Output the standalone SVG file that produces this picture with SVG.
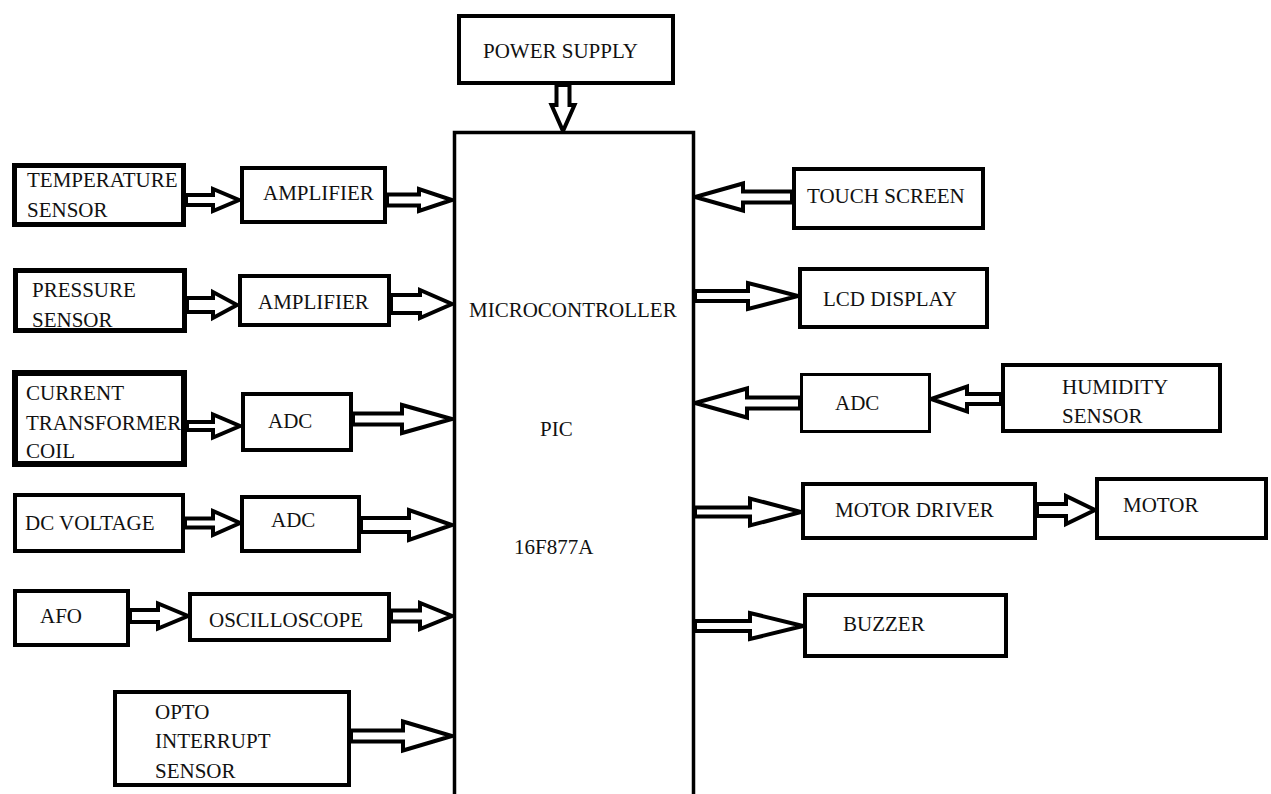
<svg xmlns="http://www.w3.org/2000/svg" width="1271" height="794" viewBox="0 0 1271 794">
<style>
.box{fill:#fff;stroke:#000;stroke-width:4}
.thick{stroke-width:5}
.thicker{stroke-width:6}
.thin{stroke-width:3}
.arr{fill:#fff;stroke:#000;stroke-width:4;stroke-linejoin:miter}
.t{font-family:'Liberation Serif','DejaVu Serif','Times New Roman',serif;font-size:21px;fill:#111}
</style>
<rect width="1271" height="794" fill="#fff"/>
<g id="connectors">
<polygon class="arr" points="556.5,85 556.5,105 551.5,105 563,131 574.5,105 569.5,105 569.5,85"/>
<polygon class="arr" points="186,195 213,195 213,189 239,200 213,211 213,205 186,205"/>
<polygon class="arr" points="387,194.5 419,194.5 419,189 452,200 419,211 419,205.5 387,205.5"/>
<polygon class="arr" points="187,298 213,298 213,292 237,305 213,318 213,312 187,312"/>
<polygon class="arr" points="391,295 420,295 420,290 452,304 420,318 420,313 391,313"/>
<polygon class="arr" points="187,422 213,422 213,414.5 240,426 213,437.5 213,430 187,430"/>
<polygon class="arr" points="353,413.5 402,413.5 402,405 452,419 402,433 402,424.5 353,424.5"/>
<polygon class="arr" points="185,518.5 213,518.5 213,511 240,523 213,535 213,527.5 185,527.5"/>
<polygon class="arr" points="361,518 409,518 409,510 452,525 409,540 409,532 361,532"/>
<polygon class="arr" points="130,610 158,610 158,603.5 188,616 158,628.5 158,622 130,622"/>
<polygon class="arr" points="391,610.5 420,610.5 420,603 452,616 420,629 420,621.5 391,621.5"/>
<polygon class="arr" points="351,730.5 403,730.5 403,721.5 452,736 403,750.5 403,741.5 351,741.5"/>
<polygon class="arr" points="792,191.5 743,191.5 743,183.5 695,197 743,210.5 743,202.5 792,202.5"/>
<polygon class="arr" points="695,291 748,291 748,283 798,296 748,309 748,301 695,301"/>
<polygon class="arr" points="800,397.5 747,397.5 747,388.5 695,403 747,417.5 747,408.5 800,408.5"/>
<polygon class="arr" points="1001,394 967,394 967,386.5 931,399 967,411.5 967,404 1001,404"/>
<polygon class="arr" points="695,507.5 750,507.5 750,498.5 801,512 750,525.5 750,516.5 695,516.5"/>
<polygon class="arr" points="1037,504 1066,504 1066,496 1095,510 1066,524 1066,516 1037,516"/>
<polygon class="arr" points="695,621 750,621 750,613 803,626 750,639 750,631 695,631"/>
</g>
<g id="power-supply"><rect class="box" x="459" y="16" width="214" height="67"/><text class="t" x="483" y="58">POWER SUPPLY</text></g>
<g id="microcontroller"><rect class="box" x="454.5" y="132.5" width="239" height="720" style="stroke-width:3.5"/><text class="t" x="469" y="317">MICROCONTROLLER</text><text class="t" x="540" y="436">PIC</text><text class="t" x="514" y="554">16F877A</text></g>
<g id="temperature-sensor"><rect class="box thick" x="14.5" y="165.5" width="169" height="59"/><text class="t" x="27" y="187">TEMPERATURE</text><text class="t" x="27" y="217">SENSOR</text></g>
<g id="amplifier-1"><rect class="box" x="242" y="168" width="143" height="54"/><text class="t" x="263" y="200">AMPLIFIER</text></g>
<g id="pressure-sensor"><rect class="box thick" x="15.5" y="270.5" width="169" height="60"/><text class="t" x="32" y="297">PRESSURE</text><text class="t" x="32" y="327">SENSOR</text></g>
<g id="amplifier-2"><rect class="box" x="240" y="276" width="149" height="49"/><text class="t" x="258" y="309">AMPLIFIER</text></g>
<g id="current-transformer-coil"><rect class="box thicker" x="15" y="373" width="169" height="91"/><line x1="12" y1="371.5" x2="187" y2="371.5" stroke="#000" stroke-width="3"/><text class="t" x="26" y="400">CURRENT</text><text class="t" x="26" y="430">TRANSFORMER</text><text class="t" x="26" y="458">COIL</text></g>
<g id="adc-1"><rect class="box" x="243" y="394" width="108" height="56"/><text class="t" x="268" y="428">ADC</text></g>
<g id="dc-voltage"><rect class="box" x="15" y="495" width="168" height="56"/><text class="t" x="25" y="530">DC VOLTAGE</text></g>
<g id="adc-2"><rect class="box" x="242" y="497" width="117" height="54"/><text class="t" x="271" y="527">ADC</text></g>
<g id="afo"><rect class="box" x="15" y="591" width="113" height="54"/><text class="t" x="40" y="623">AFO</text></g>
<g id="oscilloscope"><rect class="box" x="190" y="594" width="199" height="46"/><text class="t" x="209" y="627">OSCILLOSCOPE</text></g>
<g id="opto-interrupt-sensor"><rect class="box" x="115" y="692" width="234" height="93"/><text class="t" x="155" y="719">OPTO</text><text class="t" x="155" y="748">INTERRUPT</text><text class="t" x="155" y="778">SENSOR</text></g>
<g id="touch-screen"><rect class="box" x="794" y="169" width="189" height="59"/><text class="t" x="807" y="203">TOUCH SCREEN</text></g>
<g id="lcd-display"><rect class="box" x="800" y="269" width="187" height="58"/><text class="t" x="823" y="306">LCD DISPLAY</text></g>
<g id="adc-3"><rect class="box thin" x="801.5" y="374.5" width="128" height="57"/><text class="t" x="835" y="410">ADC</text></g>
<g id="humidity-sensor"><rect class="box" x="1003" y="365" width="217" height="66"/><text class="t" x="1062" y="394">HUMIDITY</text><text class="t" x="1062" y="423">SENSOR</text></g>
<g id="motor-driver"><rect class="box" x="803" y="484" width="232" height="54"/><text class="t" x="835" y="517">MOTOR DRIVER</text></g>
<g id="motor"><rect class="box" x="1097" y="479" width="169" height="59"/><text class="t" x="1123" y="512">MOTOR</text></g>
<g id="buzzer"><rect class="box" x="805" y="595" width="201" height="61"/><text class="t" x="843" y="631">BUZZER</text></g>
</svg>
